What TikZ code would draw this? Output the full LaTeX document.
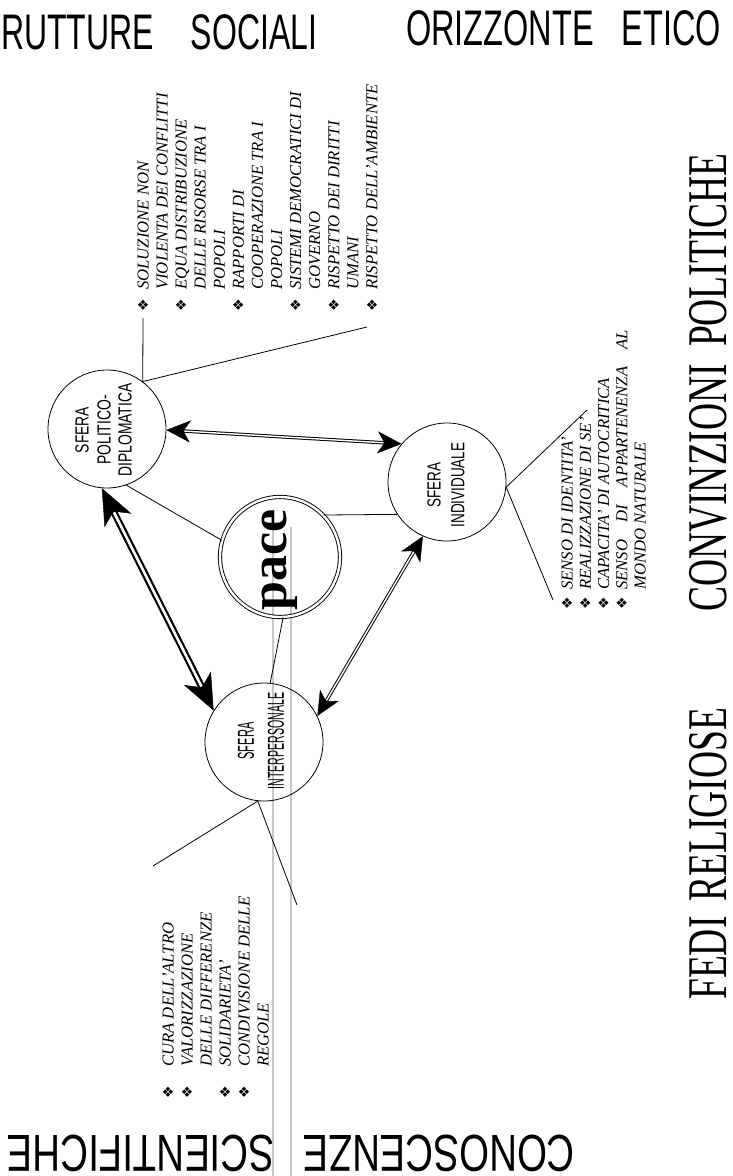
\documentclass[tikz,border=0pt]{standalone}
\usepackage{graphicx}
\usepackage{fontspec}
\setmainfont{Liberation Serif}
\setsansfont{Liberation Sans}
\newfontfamily\symfont{DejaVu Sans}
\usetikzlibrary{arrows.meta}
\newcommand{\nrw}[2]{\scalebox{#1}[1]{#2}}
\begin{document}
\begin{tikzpicture}[x=1pt,y=-1pt,
  sphere/.style={circle,draw,line width=0.8pt,minimum size=118pt,inner sep=0pt},
  lbl/.style={font=\sffamily\fontsize{19}{19}\selectfont,rotate=90,inner sep=0pt,anchor=center},
  lblbig/.style={font=\sffamily\fontsize{23}{23}\selectfont,rotate=90,inner sep=0pt,anchor=center},
  item/.style={font=\itshape\fontsize{16.7}{19}\selectfont,rotate=90,anchor=base west,inner sep=0pt},
  bul/.style={font=\symfont\fontsize{14}{14}\selectfont,rotate=90,inner sep=0pt},
  conn/.style={line width=0.8pt},
  guide/.style={draw=black!22,line width=1.3pt},
  thinarr/.style={line width=3.4pt,{Stealth[length=24pt,width=22pt,inset=7pt,line width=0.4pt]}-{Stealth[length=24pt,width=22pt,inset=7pt,line width=0.4pt]}},
  thinin/.style={draw=white,line width=1.4pt,shorten <=18pt,shorten >=18pt},
  thickarr/.style={line width=7pt,{Stealth[length=36pt,width=30pt,inset=10pt,line width=0.4pt]}-{Stealth[length=36pt,width=30pt,inset=10pt,line width=0.4pt]}},
  thickin/.style={draw=white,line width=2.6pt,shorten <=27pt,shorten >=27pt},
  head/.style={inner sep=0pt}
]
\useasboundingbox (0,0) rectangle (733,1176);
\fill[white] (0,0) rectangle (733,1176);

% grey guide lines
\coordinate (g1a) at (273,527); \coordinate (g1b) at (273,1176);
\coordinate (g2a) at (291,527); \coordinate (g2b) at (291,1176);
\draw[guide] (g1a) -- (g1b);
\draw[guide] (g2a) -- (g2b);

% headings
\node[head,font=\sffamily\fontsize{50}{50}\selectfont,anchor=base west] (h1) at (1,49) {\nrw{0.64}{RUTTURE\hspace{1.15em}SOCIALI}};
\node[head,font=\sffamily\fontsize{50}{50}\selectfont,anchor=base west] (h2) at (406,45) {\nrw{0.65}{ORIZZONTE\hspace{0.85em}ETICO}};
\node[head,font=\fontsize{56}{56}\selectfont,rotate=90,anchor=base west] (h3) at (726,612) {\nrw{0.67}{CONVINZIONI\hspace{0.45em}POLITICHE}};
\node[head,font=\fontsize{56}{56}\selectfont,rotate=90,anchor=base west] (h4) at (726,1000) {\nrw{0.67}{FEDI\hspace{0.4em}RELIGIOSE}};
\node[head,font=\sffamily\fontsize{52}{52}\selectfont,rotate=180,anchor=base west] (h5) at (575,1135) {\nrw{0.74}{CONOSCENZE\hspace{0.75em}SCIENTIFICHE}};

% spheres
\node[sphere] (pol) at (107,429) {};
\node[sphere] (ind) at (447,482) {};
\node[sphere] (int) at (264,742) {};
\node[circle,draw,line width=0.9pt,double,double distance=2.4pt,minimum size=120pt,inner sep=0pt] (pace) at (280,557) {};

\node[lbl] (pl1) at (82,430) {\nrw{0.73}{SFERA}};
\node[lbl] (pl2) at (104,430) {\nrw{0.73}{POLITICO-}};
\node[lbl] (pl3) at (125,430) {\nrw{0.73}{DIPLOMATICA}};
\node[lbl] (il1) at (434,485) {\nrw{0.71}{SFERA}};
\node[lbl] (il2) at (458,485) {\nrw{0.71}{INDIVIDUALE}};
\node[lblbig] (tl1) at (246,741) {\nrw{0.48}{SFERA}};
\node[lblbig] (tl2) at (276,741) {\nrw{0.46}{INTERPERSONALE}};
\node[inner sep=0pt,rotate=90,font=\bfseries\fontsize{52}{52}\selectfont] (pacet) at (280,560) {pace};

% connectors
\coordinate (pc1) at (143,318);
\coordinate (pc2) at (367,327);
\coordinate (ic1) at (587,410);
\coordinate (ic2) at (553,600);
\coordinate (tc1) at (153,866);
\coordinate (tc2) at (297,905);
\draw[conn] (pol.53) -- (pc1);
\draw[conn] (pol.53) -- (pc2);
\draw[conn] (pol.-71) -- (pace.164.7);
\draw[conn] (pace.44) -- (ind.213);
\draw[conn] (pace.-87) -- (int.84);
\draw[conn] (ind.-5) -- (ic1);
\draw[conn] (ind.-5) -- (ic2);
\draw[conn] (int.264) -- (tc1);
\draw[conn] (int.264) -- (tc2);

% arrows
\draw[thinarr] (pol.-1) -- (ind.140);
\draw[thinin] (pol.-1) -- (ind.140);
\draw[thickarr] (pol.265) -- (int.148);
\draw[thickin] (pol.265) -- (int.148);
\draw[thinarr] (ind.246) -- (int.26);
\draw[thinin] (ind.246) -- (int.26);

% politico list
\foreach \i/\t in {1/SOLUZIONE NON,2/VIOLENTA DEI CONFLITTI,3/EQUA DISTRIBUZIONE,4/DELLE RISORSE TRA I,5/POPOLI,6/RAPPORTI DI,7/COOPERAZIONE TRA I,8/POPOLI,9/SISTEMI DEMOCRATICI DI,10/GOVERNO,11/RISPETTO DEI DIRITTI,12/UMANI,13/RISPETTO DELL'AMBIENTE}
  \node[item] (p\i) at ({143+19.08*(\i-1)+5.5},290) {\t};
\foreach \i in {1,3,6,9,11,13}
  \node[bul] (pb\i) at ({143+19.08*(\i-1)},305) {❖};

% individuale list
\node[item] (s1) at (572.5,590) {SENSO DI IDENTITA'};
\node[item] (s2) at (590.8,590) {REALIZZAZIONE DI SE'};
\node[item] (s3) at (609.1,590) {CAPACITA' DI AUTOCRITICA};
\node[item] (s4) at (627.4,590) {\makebox[260pt][s]{SENSO DI APPARTENENZA AL}};
\node[item] (s5) at (645.7,590) {MONDO NATURALE};
\foreach \i in {1,2,3,4}
  \node[bul] (sb\i) at ({567+18.3*(\i-1)},603) {❖};

% interpersonale list
\foreach \i/\t in {1/CURA DELL'ALTRO,2/VALORIZZAZIONE,3/DELLE DIFFERENZE,4/SOLIDARIETA',5/CONDIVISIONE DELLE,6/REGOLE}
  \node[item] (c\i) at ({168+19*(\i-1)+5.5},1067) {\t};
\foreach \i in {1,2,4,5}
  \node[bul] (cb\i) at ({168+19*(\i-1)},1092) {❖};
\end{tikzpicture}
\end{document}
